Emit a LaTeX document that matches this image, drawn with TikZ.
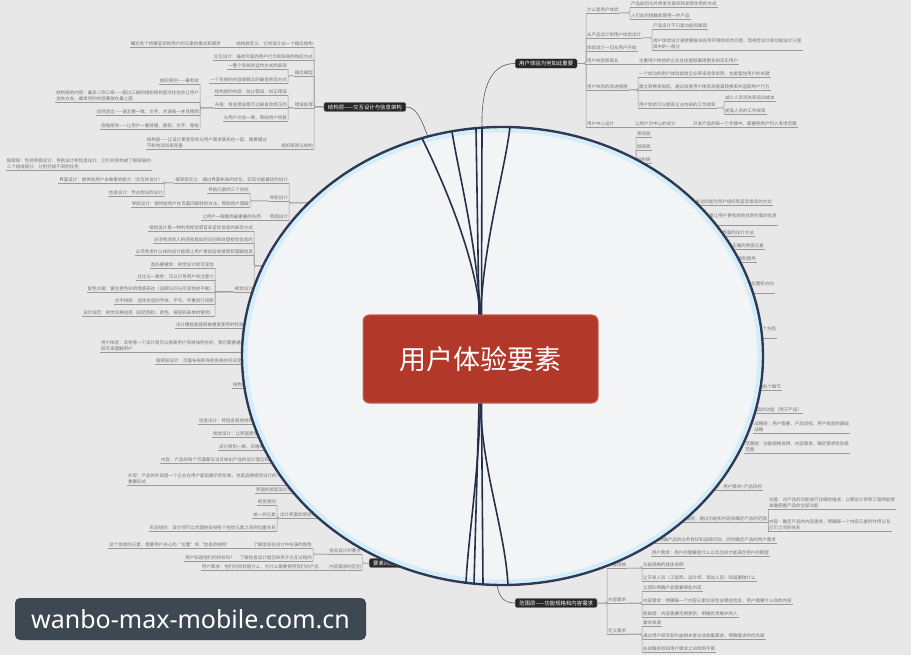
\documentclass[tikz,border=0pt]{standalone}
\usepackage{fontspec}
\usepackage{tikz}
\usetikzlibrary{positioning}
\newfontfamily\cjk{Noto Sans CJK SC}
\newfontfamily\wmfont{Noto Sans}
\definecolor{paper}{HTML}{E8E8E9}
\definecolor{lensfill}{HTML}{F3F4F6}
\definecolor{lensline}{HTML}{2E3956}
\definecolor{hubred}{HTML}{B2382A}
\definecolor{slate}{HTML}{3E4853}

\begin{document}
\begin{tikzpicture}[x=1pt, y=-1pt,
    leaf/.style={font=\cjk\fontsize{4.5}{5.6}\selectfont, text=black!55, inner xsep=1pt, inner ysep=1.3pt, align=left,
      append after command={(\tikzlastnode.south west) edge[draw=black!40, line width=0.5pt] (\tikzlastnode.south east)}},
    lt/.style={leaf, anchor=south east},
    rt/.style={leaf, anchor=south west},
    link/.style={draw=black!40, line width=0.5pt, rounded corners=1.5pt},
    branch/.style={fill=black!85, draw=black!35, text=white, font=\cjk\fontsize{5.4}{6}\selectfont, rounded corners=1.5pt, inner xsep=4pt, inner ysep=2.2pt},
    conn/.style={draw=black!65, line width=0.6pt},
    spoke/.style={draw=lensline!85!black, line width=1.6pt},
    hub/.style={fill=hubred, draw=hubred!75!white, line width=1pt, rounded corners=6pt, text=white, font=\cjk\fontsize{27}{30}\selectfont, minimum width=235pt, minimum height=88pt}]

    \useasboundingbox (0,0) rectangle (911,655);
    \fill[paper] (0,0) rectangle (911,655);

    \node[branch, anchor=west] (why) at (515,63.5) {用户体验为何如此重要};
    \node[rt] (t1) at (586,13) {什么是用户体验};
    \node[rt] (t11) at (630,7) {产品如何与外界发生联系和发挥作用的方式};
    \node[rt] (t12) at (630,19) {人们如何接触和使用一件产品};
    \node[rt] (t2) at (586,38) {从产品设计到用户体验设计};
    \node[rt] (t21) at (652,29) {产品设计不只是功能和美观};
    \node[rt] (t22) at (652,50) {用户体验设计通常要解决应用环境的综合问题，而视觉设计和功能设计只是\\其中的一部分};
    \node[rt] (t3) at (586,51) {体验设计一切从用户开始};
    \node[rt] (t4) at (586,64) {用户体验和商业};
    \node[rt] (t41) at (638,64) {注重用户体验的企业往往能够赢得更多的忠实用户};
    \node[rt] (t5) at (586,90) {用户体验的改进措施};
    \node[rt] (t51) at (638,77) {一个成功的用户体验能给企业带来竞争优势，也是留住用户的关键};
    \node[rt] (t52) at (638,90) {建立转换率指标，通过改善用户体验来提高转换率并追踪用户行为};
    \node[rt] (t53) at (638,108) {用户体验可以提高企业内部的工作效率};
    \node[rt] (t531) at (724,101) {减少人员流失和培训成本};
    \node[rt] (t532) at (724,114) {提高人员的工作效率};
    \node[rt] (t6) at (586,127) {用户中心设计};
    \node[rt] (t61) at (634,127) {以用户为中心的设计};
    \node[rt] (t62) at (692,127) {开发产品的每一个步骤中，都要把用户列入考虑范围};

    \draw[link] (t11.south west) |- (t1.south east);
    \draw[link] (t12.south west) |- (t1.south east);
    \draw[link] (t21.south west) |- (t2.south east);
    \draw[link] (t22.south west) |- (t2.south east);
    \draw[link] (t4.south east) -- (t41.south west);
    \draw[link] (t51.south west) |- (t5.south east);
    \draw[link] (t52.south west) |- (t5.south east);
    \draw[link] (t53.south west) |- (t5.south east);
    \draw[link] (t531.south west) |- (t53.south east);
    \draw[link] (t532.south west) |- (t53.south east);
    \draw[link] (t6.south east) -- (t61.south west);
    \draw[link] (t61.south east) -- (t62.south west);
    \foreach \nd in {t1,t2,t3,t4,t5,t6}
        \draw[link] (\nd.south west) |- (why.east);

    \node[branch, anchor=east] (struct) at (406,107) {结构层——交互设计与信息架构};
    \node[lt] (s1) at (314,47) {结构层定义：它将设计出一个概念结构};
    \node[lt] (s11) at (222,47) {确定各个将要呈现给用户的元素的模式和顺序};
    \node[lt] (s2) at (314,60) {交互设计：描述可能的用户行为和系统的响应方式};
    \node[lt] (s3) at (314,76) {概念模型};
    \node[lt] (s31) at (288,69) {一整个系统的运作方式的表现};
    \node[lt] (s32) at (288,83) {一个系统的内容或概念的最佳表现方式};
    \node[lt] (s4) at (314,108) {错误处理};
    \node[lt] (s41) at (288,95) {结构层的内容：防止错误，纠正错误};
    \node[lt] (s42) at (288,108) {升级：有些错误是可以被自动修正的};
    \node[lt] (s43) at (288,121) {与用户交谈一致，帮助用户恢复};
    \node[lt] (s421) at (200,84) {组织原则——最有效};
    \node[lt] (s422) at (200,102) {结构层的内容：最多二到三级——超过三级的组织结构层次往往会让用户\\迷失方向，最常用的内容要放在最上面};
    \node[lt] (s423) at (200,115) {自然语言——语言要一致，文字、术语统一并且精简};
    \node[lt] (s424) at (200,129) {隐喻原则——让用户一看就懂，图标、文字、隐喻};
    \node[lt] (s5) at (314,149) {组织原则与结构};
    \node[lt] (s51) at (268,149) {结构层——让设计更紧密地与用户需求联系在一起，需要通过\\不断地测试来完善};

    \draw[link] (s11.south east) -- (s1.south west);
    \draw[link] (s31.south east) |- (s3.south west);
    \draw[link] (s32.south east) |- (s3.south west);
    \draw[link] (s41.south east) |- (s4.south west);
    \draw[link] (s42.south east) |- (s4.south west);
    \draw[link] (s43.south east) |- (s4.south west);
    \foreach \nd in {s421,s422,s423,s424}
        \draw[link] (\nd.south east) |- (s42.south west);
    \draw[link] (s51.south east) -- (s5.south west);
    \foreach \nd in {s1,s2,s3,s4,s5}
        \draw[link] (\nd.south east) |- (struct.west);

    \coordinate (kroot) at (330,203);
    \coordinate (kroot2) at (330,266);
    \node[lt] (k0) at (152,170) {框架层：包括界面设计、导航设计和信息设计，它们共同构成了框架层的\\三个组成部分，分别完成不同的任务};
    \node[lt] (k1) at (289,183) {框架层定义：通过界面布局的优化，实现功能最优的设计};
    \node[lt] (k11) at (164,183) {界面设计：提供给用户去做事的能力（交互的设计）};
    \node[lt] (k12) at (164,196) {信息设计：传达想法的设计};
    \node[lt] (k2) at (289,201) {导航设计};
    \node[lt] (k21) at (250,193) {导航元素的三个目标};
    \node[lt] (k22) at (250,207) {导航设计：提供给用户在页面间跳转的方法，帮助用户理解};
    \node[lt] (k3) at (289,220) {界面设计};
    \node[lt] (k31) at (262,220) {让用户一眼看到最重要的东西};

    \draw[link] (k11.south east) |- (k1.south west);
    \draw[link] (k12.south east) |- (k1.south west);
    \draw[link] (k21.south east) |- (k2.south west);
    \draw[link] (k22.south east) |- (k2.south west);
    \draw[link] (k31.south east) -- (k3.south west);
    \foreach \nd in {k1,k2,k3}
        \draw[link] (\nd.south east) |- (kroot);

    \node[lt] (k41) at (254,231) {视觉设计是一种利用视觉感官来呈现信息的表现方式};
    \node[lt] (k42) at (254,243) {必须考虑到人的感知是如何识别和处理视觉信息的};
    \node[lt] (k43) at (254,255) {必须考虑什么样的设计能够让用户更加容易接受和理解信息};
    \node[lt] (k44) at (254,292) {视觉设计};
    \node[lt] (k441) at (215,268) {首先要做到：视觉设计的可读性};
    \node[lt] (k442) at (215,280) {对比与一致性：可以引导用户的注意力};
    \node[lt] (k443) at (215,292) {配色方案：要注意色彩的情感表达（品牌认同与可读性的平衡）};
    \node[lt] (k444) at (215,304) {文字排版：选择合适的字体、字号、字重和行间距};
    \node[lt] (k445) at (215,316) {设计规范：视觉风格指南（规范图标、颜色、按钮和表单的使用）};

    \foreach \nd in {k441,k442,k443,k444,k445}
        \draw[link] (\nd.south east) |- (k44.south west);
    \foreach \nd in {k41,k42,k43,k44}
        \draw[link] (\nd.south east) |- (kroot2);

    \node[rt] (k51) at (175,328) {设计模板是能够被重复使用的标准化元素组合};
    \node[rt] (k52) at (100,352) {用户体验：没有哪一个设计是可以脱离用户而单独存在的，我们需要通过\\研究来理解用户};
    \node[rt] (k53) at (155,364) {框架层设计：页面布局和导航系统共同决定了};
    \node[rt] (k54) at (232,388) {结构层与框架层};

    \node[rt] (k61) at (198,424) {信息设计：将信息有效地传达给用户};
    \node[rt] (k62) at (212,437) {视觉设计：让界面更加美观};
    \node[rt] (k63) at (218,450) {设计原则一致，风格统一，简洁明了};
    \node[rt] (k64) at (160,463) {内容：产品的每个页面都应当反映出产品的设计理念和风格};
    \node[rt] (k65) at (127,485) {外观：产品的外观是一个企业在用户面前展示的形象，也是品牌视觉设计的一种\\重要形式};
    \node[rt] (k74) at (255,493) {界面的原型设计与测试};
    \node[rt] (k7) at (279,518) {设计界面的原则与方法};
    \node[lt] (k71) at (277,505) {视觉原则};
    \node[lt] (k72) at (277,518) {统一的元素};
    \node[lt] (k73) at (277,531) {形态组织：设计师可以合理地安排各个视觉元素之间的位置关系};

    \foreach \nd in {k71,k72,k73}
        \draw[link] (\nd.south east) |- (k7.south west);

    \node[branch, anchor=west] (elem) at (369,563) {要素的应用——用户体验的实践};
    \node[lt] (e1) at (362,554) {信息设计的要点};
    \node[lt] (e11) at (313,548) {了解信息在设计中扮演的角色};
    \node[lt] (e111) at (232,548) {这个体验的元素，需要用户关心的“位置”和“信息的结构”};
    \node[lt] (e12) at (313,561) {了解信息设计是怎样用于交互过程的};
    \node[lt] (e121) at (236,561) {用户知道他们的目标吗？};
    \node[lt] (e2) at (362,570) {内容需求的区别};
    \node[lt] (e21) at (320,570) {用户需求：他们的目标是什么，为什么需要使用我们的产品};

    \draw[link] (e111.south east) -- (e11.south west);
    \draw[link] (e121.south east) -- (e12.south west);
    \draw[link] (e11.south east) |- (e1.south west);
    \draw[link] (e12.south east) |- (e1.south west);
    \draw[link] (e21.south east) -- (e2.south west);
    \foreach \nd in {e1,e2}
        \draw[link] (\nd.south east) |- (elem.west);

    \coordinate (rroot) at (600,175);
    \node[rt] (r1) at (636,137) {表现层};
    \node[rt] (r2) at (636,150) {框架层};
    \node[rt] (r3) at (636,163) {结构层};
    \foreach \nd in {r1,r2,r3}
        \draw[link] (\nd.south west) |- (rroot);

    \node[lt] (r4) at (773,205) {信息架构关注的是为用户组织和呈现信息的方式};
    \node[lt] (r5) at (778,225) {信息架构的设计目的是让用户更有效地找到所需的信息\\信息架构};
    \node[lt] (r6) at (755,236) {框架层中界面的设计方法};
    \node[lt] (r7) at (765,249) {界面设计要求选择正确的界面元素};
    \node[lt] (r8) at (757,262) {让用户能够容易理解和使用};
    \node[lt] (r9) at (775,293) {需要通过导航设计使用户清楚地知道自己的位置和方向\\导航};
    \node[lt] (r10) at (777,338) {产品的信息设计要体现在视觉、听觉等各个方面\\信息};
    \node[lt] (r11) at (782,390) {用户的体验来自于产品的各个细节};
    \node[lt] (r12) at (803,413) {具体产品的功能（用于产品）};
    \node[lt] (r13) at (850,433) {战略层：用户需要、产品目标、用户体验的基础\\战略};
    \node[lt] (r14) at (850,453) {范围层：功能规格说明、内容需求、确定需求优先级\\范围};
    \node[lt] (r15) at (763,490) {战略层：用户需求+产品目标};
    \node[lt] (r16) at (768,522) {范围层：通过功能和内容来确定产品的范围};
    \node[rt] (r161) at (768,509) {功能：对产品的功能进行详细的描述，以便设计师和工程师能够\\准确把握产品的全部功能};
    \node[rt] (r162) at (768,531) {内容：确定产品的内容需求，明确每一个内容元素的作用以及\\它们之间的关系};
    \node[lt] (r17) at (777,543) {产品目标：明确产品的业务目标和品牌识别，同时确定产品的用户需求};
    \node[lt] (r18) at (770,556) {用户需求：用户的需要是什么以及怎样才能满足用户的期望};

    \draw[link] (r161.south west) |- (r16.south east);
    \draw[link] (r162.south west) |- (r16.south east);

    \node[branch, anchor=west] (scope) at (515,603) {范围层——功能规格和内容需求};
    \node[rt] (p1) at (607,568) {功能规格};
    \node[rt] (p11) at (642,568) {功能规格的具体说明};
    \node[rt] (p12) at (642,581) {让开发人员（工程师、设计师、测试人员）知道要做什么};
    \node[rt] (p2) at (607,603) {内容需求};
    \node[rt] (p21) at (642,591) {让团队明确产品需要哪些内容};
    \node[rt] (p22) at (642,604) {内容需求：明确每一个内容元素应该包含哪些信息，用户需要什么样的内容};
    \node[rt] (p23) at (642,617) {新鲜度：内容需要定期更新，明确负责维护的人};
    \node[rt] (p3) at (607,634) {定义需求};
    \node[rt] (p31) at (642,626) {需求来源};
    \node[rt] (p32) at (642,639) {通过用户研究和利益相关者访谈收集需求，明确需求的优先级};
    \node[rt] (p33) at (642,652) {在战略目标和用户需求之间找到平衡};

    \draw[link] (p11.south west) |- (p1.south east);
    \draw[link] (p12.south west) |- (p1.south east);
    \draw[link] (p21.south west) |- (p2.south east);
    \draw[link] (p22.south west) |- (p2.south east);
    \draw[link] (p23.south west) |- (p2.south east);
    \draw[link] (p31.south west) |- (p3.south east);
    \draw[link] (p32.south west) |- (p3.south east);
    \draw[link] (p33.south west) |- (p3.south east);
    \foreach \nd in {p1,p2,p3}
        \draw[link] (\nd.south west) |- (scope.east);

    \coordinate (topA) at (482,128);
    \coordinate (topB) at (428,137);
    \coordinate (botA) at (497,585);
    \draw[conn] (topA) .. controls (481,85) and (492,63.5) .. (why.west);
    \draw[conn] (topB) .. controls (421,118) and (416,107) .. (struct.east);
    \draw[conn] (botA) .. controls (499,597) and (504,603) .. (scope.west);

    \fill[lensfill] (502.5,356) ellipse [x radius=260.5pt, y radius=229pt];
    \draw[cyan!25!white, line width=4pt, opacity=0.6] (502.5,356) ellipse [x radius=257pt, y radius=225.5pt];
    \draw[lensline, line width=2.4pt] (502.5,356) ellipse [x radius=260.5pt, y radius=229pt];

    \node[hub] (core) at (480.5,359) {用户体验要素};

    \coordinate (u1) at (422,138.2);
    \coordinate (u2) at (452,131.4);
    \coordinate (u3) at (476,128.2);
    \coordinate (u4) at (482,127.6);
    \coordinate (u5) at (510,127.1);
    \coordinate (d1) at (466,582.8);
    \coordinate (d2) at (474,583.7);
    \coordinate (d3) at (483,584.4);
    \coordinate (d4) at (508,585);

    \draw[spoke] (core.north) .. controls (474,250) and (440,175) .. (u1);
    \draw[spoke] (core.north) .. controls (476,240) and (458,170) .. (u2);
    \draw[spoke] ([xshift=-1.5pt]core.north) -- (u3);
    \draw[spoke] ([xshift=1pt]core.north) -- (u4);
    \draw[spoke] (core.north) .. controls (484,240) and (505,170) .. (u5);
    \draw[spoke] (core.south) .. controls (478,480) and (468,540) .. (d1);
    \draw[spoke] ([xshift=-1.5pt]core.south) -- (d2);
    \draw[spoke] ([xshift=1pt]core.south) -- (d3);
    \draw[spoke] (core.south) .. controls (482,470) and (505,530) .. (d4);

    \node[fill=slate, rounded corners=5pt, minimum width=351pt, minimum height=42pt, inner sep=0pt,
        text=white, font=\wmfont\fontsize{25}{28}\selectfont] (mark) at (190.5,619) {wanbo-max-mobile.com.cn};

\end{tikzpicture}
\end{document}
